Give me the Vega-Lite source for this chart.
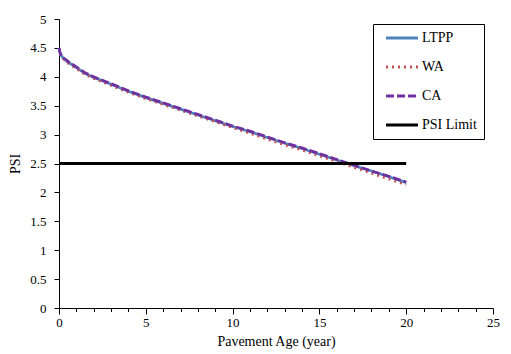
{
  "$schema": "https://vega.github.io/schema/vega-lite/v6.json",
  "width": 434,
  "height": 289,
  "autosize": {"type": "none"},
  "padding": {"left": 59, "top": 19, "right": 18, "bottom": 46},
  "background": "white",
  "config": {
    "view": {"stroke": null},
    "font": "Liberation Serif",
    "axis": {"labelFont": "Liberation Serif", "titleFont": "Liberation Serif", "labelFontSize": 13, "titleFontSize": 14, "titleFontWeight": "normal", "labelColor": "black", "titleColor": "black", "domainColor": "black", "tickColor": "black", "grid": false},
    "legend": {"labelFont": "Liberation Serif", "labelFontSize": 14, "labelColor": "black"}
  },
  "data": {"values": [
    {"series": "LTPP", "age": 0, "psi": 4.50},
    {"series": "LTPP", "age": 0.05, "psi": 4.42},
    {"series": "LTPP", "age": 0.1, "psi": 4.38},
    {"series": "LTPP", "age": 0.25, "psi": 4.32},
    {"series": "LTPP", "age": 0.5, "psi": 4.26},
    {"series": "LTPP", "age": 0.75, "psi": 4.21},
    {"series": "LTPP", "age": 1, "psi": 4.16},
    {"series": "LTPP", "age": 1.5, "psi": 4.06},
    {"series": "LTPP", "age": 2, "psi": 3.99},
    {"series": "LTPP", "age": 2.5, "psi": 3.93},
    {"series": "LTPP", "age": 3, "psi": 3.87},
    {"series": "LTPP", "age": 3.5, "psi": 3.81},
    {"series": "LTPP", "age": 4, "psi": 3.75},
    {"series": "LTPP", "age": 5, "psi": 3.64},
    {"series": "LTPP", "age": 6, "psi": 3.54},
    {"series": "LTPP", "age": 7, "psi": 3.44},
    {"series": "LTPP", "age": 8, "psi": 3.34},
    {"series": "LTPP", "age": 9, "psi": 3.24},
    {"series": "LTPP", "age": 10, "psi": 3.14},
    {"series": "LTPP", "age": 11, "psi": 3.05},
    {"series": "LTPP", "age": 12, "psi": 2.95},
    {"series": "LTPP", "age": 13, "psi": 2.85},
    {"series": "LTPP", "age": 14, "psi": 2.76},
    {"series": "LTPP", "age": 15, "psi": 2.66},
    {"series": "LTPP", "age": 16, "psi": 2.56},
    {"series": "LTPP", "age": 17, "psi": 2.46},
    {"series": "LTPP", "age": 18, "psi": 2.37},
    {"series": "LTPP", "age": 19, "psi": 2.27},
    {"series": "LTPP", "age": 20, "psi": 2.17},
    {"series": "WA", "age": 0, "psi": 4.50},
    {"series": "WA", "age": 0.05, "psi": 4.41},
    {"series": "WA", "age": 0.1, "psi": 4.37},
    {"series": "WA", "age": 0.25, "psi": 4.31},
    {"series": "WA", "age": 0.5, "psi": 4.24},
    {"series": "WA", "age": 0.75, "psi": 4.19},
    {"series": "WA", "age": 1, "psi": 4.14},
    {"series": "WA", "age": 1.5, "psi": 4.04},
    {"series": "WA", "age": 2, "psi": 3.97},
    {"series": "WA", "age": 2.5, "psi": 3.91},
    {"series": "WA", "age": 3, "psi": 3.85},
    {"series": "WA", "age": 3.5, "psi": 3.79},
    {"series": "WA", "age": 4, "psi": 3.73},
    {"series": "WA", "age": 5, "psi": 3.62},
    {"series": "WA", "age": 6, "psi": 3.52},
    {"series": "WA", "age": 7, "psi": 3.42},
    {"series": "WA", "age": 8, "psi": 3.32},
    {"series": "WA", "age": 9, "psi": 3.22},
    {"series": "WA", "age": 10, "psi": 3.12},
    {"series": "WA", "age": 11, "psi": 3.02},
    {"series": "WA", "age": 12, "psi": 2.92},
    {"series": "WA", "age": 13, "psi": 2.82},
    {"series": "WA", "age": 14, "psi": 2.73},
    {"series": "WA", "age": 15, "psi": 2.63},
    {"series": "WA", "age": 16, "psi": 2.53},
    {"series": "WA", "age": 17, "psi": 2.43},
    {"series": "WA", "age": 18, "psi": 2.33},
    {"series": "WA", "age": 19, "psi": 2.23},
    {"series": "WA", "age": 20, "psi": 2.13},
    {"series": "CA", "age": 0, "psi": 4.50},
    {"series": "CA", "age": 0.05, "psi": 4.43},
    {"series": "CA", "age": 0.1, "psi": 4.39},
    {"series": "CA", "age": 0.25, "psi": 4.33},
    {"series": "CA", "age": 0.5, "psi": 4.27},
    {"series": "CA", "age": 0.75, "psi": 4.22},
    {"series": "CA", "age": 1, "psi": 4.17},
    {"series": "CA", "age": 1.5, "psi": 4.07},
    {"series": "CA", "age": 2, "psi": 4.00},
    {"series": "CA", "age": 2.5, "psi": 3.94},
    {"series": "CA", "age": 3, "psi": 3.88},
    {"series": "CA", "age": 3.5, "psi": 3.82},
    {"series": "CA", "age": 4, "psi": 3.76},
    {"series": "CA", "age": 5, "psi": 3.65},
    {"series": "CA", "age": 6, "psi": 3.55},
    {"series": "CA", "age": 7, "psi": 3.45},
    {"series": "CA", "age": 8, "psi": 3.35},
    {"series": "CA", "age": 9, "psi": 3.25},
    {"series": "CA", "age": 10, "psi": 3.15},
    {"series": "CA", "age": 11, "psi": 3.06},
    {"series": "CA", "age": 12, "psi": 2.96},
    {"series": "CA", "age": 13, "psi": 2.86},
    {"series": "CA", "age": 14, "psi": 2.77},
    {"series": "CA", "age": 15, "psi": 2.67},
    {"series": "CA", "age": 16, "psi": 2.57},
    {"series": "CA", "age": 17, "psi": 2.47},
    {"series": "CA", "age": 18, "psi": 2.37},
    {"series": "CA", "age": 19, "psi": 2.28},
    {"series": "CA", "age": 20, "psi": 2.18},
    {"series": "PSI Limit", "age": 0, "psi": 2.5},
    {"series": "PSI Limit", "age": 20, "psi": 2.5}
  ]},
  "encoding": {
    "x": {"field": "age", "type": "quantitative", "scale": {"domain": [0, 25], "nice": false, "zero": false}, "axis": null},
    "y": {"field": "psi", "type": "quantitative", "scale": {"domain": [0, 5], "nice": false},
      "axis": {"title": "PSI", "values": [0, 0.5, 1, 1.5, 2, 2.5, 3, 3.5, 4, 4.5, 5], "format": "~g", "tickSize": 5, "labelPadding": 8, "titlePadding": 7, "labelFlush": false}},
    "color": {"field": "series", "type": "nominal",
      "scale": {"domain": ["LTPP", "WA", "CA", "PSI Limit"], "range": ["#4F81BD", "#C0504D", "#7030A0", "#000000"]},
      "legend": {"title": null, "orient": "none", "legendX": 314, "legendY": 5, "strokeColor": "black", "padding": 7, "symbolOffset": 15, "symbolType": "M-4,0H4", "symbolSize": 64, "labelOffset": 13, "rowPadding": 15, "fillColor": "white", "symbolStrokeWidth": 3,
        "encode": {"symbols": {"update": {"strokeDash": {"signal": "datum.value === 'WA' ? [2, 4] : datum.value === 'CA' ? [8, 3] : [1, 0]"}}}}}},
    "order": {"field": "age", "type": "quantitative"}
  },
  "resolve": {"axis": {"x": "independent"}},
  "layer": [
    {"transform": [{"filter": "datum.series === 'LTPP'"}], "mark": {"type": "line", "strokeWidth": 2.75},
     "encoding": {"x": {"field": "age", "type": "quantitative", "scale": {"domain": [0, 25], "nice": false, "zero": false},
       "axis": {"orient": "bottom", "title": "Pavement Age (year)", "values": [0,1,2,3,4,5,6,7,8,9,10,11,12,13,14,15,16,17,18,19,20,21,22,23,24,25],
         "labelExpr": "datum.value % 5 === 0 ? datum.label : ''",
         "tickSize": {"condition": {"test": "datum.value % 5 === 0", "value": 6}, "value": 3.5},
         "domain": true, "labelPadding": 2, "titlePadding": 5, "labelFlush": false}}}},
    {"transform": [{"filter": "datum.series === 'WA'"}], "mark": {"type": "line", "strokeWidth": 2.5, "strokeDash": [2, 4]}},
    {"transform": [{"filter": "datum.series === 'CA'"}], "mark": {"type": "line", "strokeWidth": 2.75, "strokeDash": [8, 3]}},
    {"transform": [{"filter": "datum.series === 'PSI Limit'"}], "mark": {"type": "line", "strokeWidth": 3}}
  ]
}
